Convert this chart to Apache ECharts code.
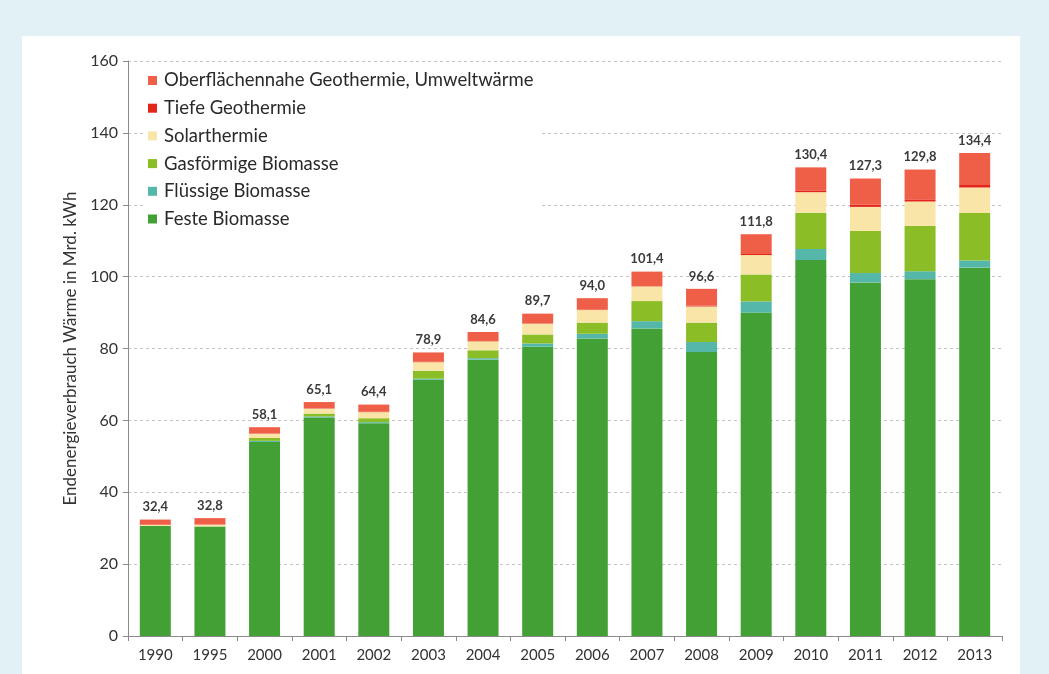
<!DOCTYPE html>
<html>
<head>
<meta charset="utf-8">
<script src="https://cdn.jsdelivr.net/npm/echarts@6/dist/echarts.min.js"></script>
<style>
html,body{margin:0;padding:0;background:#e2f1f6;}
#chart{width:1049px;height:674px;}
</style>
</head>
<body>
<div id="chart"></div>
<script>
const years = ['1990','1995','2000','2001','2002','2003','2004','2005','2006','2007','2008','2009','2010','2011','2012','2013'];
const festeBiomasse   = [30.6,30.5,54.0,60.8,59.2,71.3,76.9,80.5,82.8,85.6,79.0,90.0,104.6,98.4,99.3,102.5];
const fluessigeBiomasse = [0.0,0.0,0.3,0.3,0.3,0.3,0.4,0.9,1.3,2.0,2.8,3.1,3.1,2.6,2.2,2.0];
const gasBiomasse     = [0.0,0.0,0.8,0.8,1.1,2.2,2.2,2.5,3.1,5.6,5.4,7.5,10.1,11.7,12.6,13.2];
const solarthermie    = [0.3,0.5,1.2,1.4,1.7,2.4,2.5,3.0,3.5,4.1,4.5,5.4,5.7,6.7,6.8,7.1];
const tiefeGeothermie = [0.1,0.1,0.1,0.1,0.1,0.1,0.1,0.1,0.1,0.1,0.2,0.3,0.5,0.6,0.6,0.7];
const oberflGeothermie= [1.4,1.7,1.7,1.7,2.0,2.6,2.5,2.7,3.2,4.0,4.7,5.5,6.4,7.3,8.3,8.9];
const totals          = [32.4,32.8,58.1,65.1,64.4,78.9,84.6,89.7,94.0,101.4,96.6,111.8,130.4,127.3,129.8,134.4];
const yTicks = [0,20,40,60,80,100,120,140,160];

const names = ['Feste Biomasse','Flüssige Biomasse','Gasförmige Biomasse','Solarthermie','Tiefe Geothermie','Oberflächennahe Geothermie, Umweltwärme'];
const datas = [festeBiomasse,fluessigeBiomasse,gasBiomasse,solarthermie,tiefeGeothermie,oberflGeothermie];
const colors = ['#43a035','#55b7a9','#8bbd26','#f9e5a8','#e3251c','#ef5e46'];

const chart = echarts.init(document.getElementById('chart'), null, {renderer:'canvas'});
const series = names.map((n,i)=>{
  const s = {
    name:n, type:'bar', stack:'total', data:datas[i], barWidth:31,
    itemStyle:{color:colors[i]}, emphasis:{disabled:true}
  };
  if(i===names.length-1){
    s.label = {
      show:true, position:'top', distance:6,
      fontFamily:'Lato', fontSize:13, fontWeight:'bold', color:'#3a3a3a',
      formatter:(p)=>totals[p.dataIndex].toFixed(1).replace('.',',')
    };
  }
  return s;
});

chart.setOption({
  backgroundColor:'#e2f1f6',
  animation:false,
  graphic:[{type:'rect', z:-10, shape:{x:22,y:36,width:998,height:640}, style:{fill:'#ffffff'}}],
  grid:{left:128,right:47,top:61,bottom:38,containLabel:false},
  legend:{
    orient:'vertical', left:144, top:67,
    data:names.slice().reverse(),
    itemWidth:9, itemHeight:9, itemGap:8.7, icon:'rect',
    backgroundColor:'#ffffff', padding:[4,8,4,4],
    textStyle:{fontFamily:'Lato', fontSize:18.5, color:'#2a2a2a', padding:[0,0,0,2]}
  },
  xAxis:{
    type:'category', data:years,
    axisLine:{lineStyle:{color:'#8a8a8a'}},
    axisTick:{show:true, lineStyle:{color:'#8a8a8a'}, length:5},
    axisLabel:{fontFamily:'Lato', fontSize:15, color:'#333', margin:12}
  },
  yAxis:{
    type:'value', min:yTicks[0], max:yTicks[yTicks.length-1], interval:20,
    name:'Endenergieverbrauch Wärme in Mrd. kWh', nameLocation:'middle', nameGap:48,
    nameTextStyle:{fontFamily:'Lato', fontSize:17, color:'#333'},
    axisLine:{show:true, lineStyle:{color:'#8a8a8a'}},
    axisTick:{show:true, lineStyle:{color:'#8a8a8a'}, length:5},
    axisLabel:{fontFamily:'Lato', fontSize:16, color:'#333', margin:10},
    splitLine:{show:true, lineStyle:{color:'#c4c4c4', type:[3,3]}}
  },
  series:series
});
</script>
</body>
</html>
